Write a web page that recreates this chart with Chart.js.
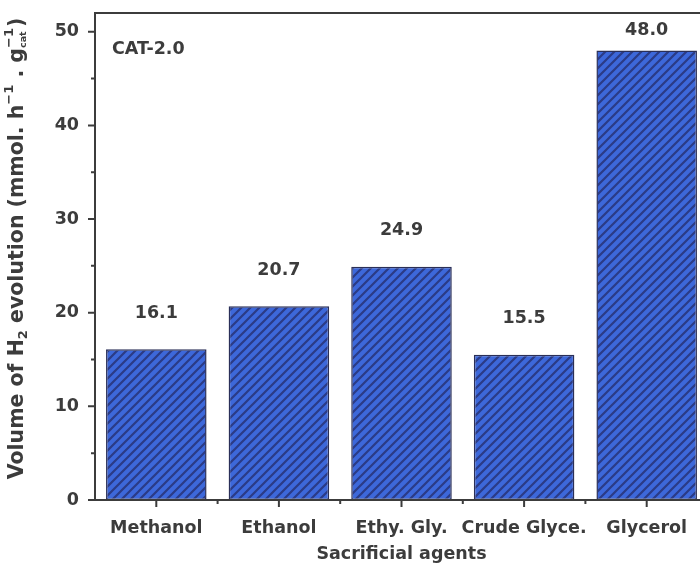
<!DOCTYPE html>
<html>
<head>
<meta charset="utf-8">
<script src="https://cdn.jsdelivr.net/npm/chart.js@4/dist/chart.umd.min.js"></script>
<style>
  html, body { margin: 0; padding: 0; background: #fff; overflow: hidden; }
  #wrap { width: 700px; height: 569px; overflow: hidden; position: relative; }
  #holder { width: 712px; height: 569px; position: absolute; left: 0; top: 0; }
</style>
</head>
<body>
<div id="wrap"><div id="holder"><canvas id="c"></canvas></div></div>
<script>
// Hydrogen evolution by sacrificial agent (CAT-2.0)
const categories = ['Methanol', 'Ethanol', 'Ethy. Gly.', 'Crude Glyce.', 'Glycerol'];
const h2Volume = [16.1, 20.7, 24.9, 15.5, 48.0];
const yTicks = [0, 10, 20, 30, 40, 50];
const sampleName = 'CAT-2.0';
const xTitle = 'Sacrificial agents';

const INK = '#3c3c3c';
const FONT = '"DejaVu Sans", Arial, sans-serif';
const LABEL_SIZE = 17.5;

// Diagonal hatch fill for the bars
function makeHatch() {
  const s = 9;
  const p = document.createElement('canvas');
  p.width = s; p.height = s;
  const g = p.getContext('2d');
  g.fillStyle = '#3d68da';
  g.fillRect(0, 0, s, s);
  g.strokeStyle = '#2b3b86';
  g.lineWidth = 2.2;
  g.beginPath();
  g.moveTo(-2, s + 2); g.lineTo(s + 2, -2);
  g.moveTo(-2, 2); g.lineTo(2, -2);
  g.moveTo(s - 2, s + 2); g.lineTo(s + 2, s - 2);
  g.stroke();
  return g.createPattern(p, 'repeat');
}

const framePlugin = {
  id: 'frame',
  afterDraw(chart) {
    const { ctx, chartArea: a, scales } = chart;
    const y = scales.y, x = scales.x;
    ctx.save();
    ctx.strokeStyle = INK;
    ctx.lineWidth = 2;
    ctx.beginPath();
    ctx.rect(a.left, a.top, a.right - a.left, a.bottom - a.top);
    ctx.stroke();
    // y ticks: major with labels, minor halfway
    ctx.beginPath();
    for (let v = 0; v <= 50; v += 5) {
      const py = y.getPixelForValue(v);
      const len = v % 10 === 0 ? 7 : 4;
      ctx.moveTo(a.left, py); ctx.lineTo(a.left - len, py);
    }
    // x ticks: major at categories, minor between
    for (let i = 0; i < categories.length; i++) {
      const px = x.getPixelForValue(i);
      ctx.moveTo(px, a.bottom); ctx.lineTo(px, a.bottom + 7);
      if (i < categories.length - 1) {
        const mx = (px + x.getPixelForValue(i + 1)) / 2;
        ctx.moveTo(mx, a.bottom); ctx.lineTo(mx, a.bottom + 4);
      }
    }
    ctx.stroke();

    // sample tag
    ctx.fillStyle = INK;
    ctx.font = 'bold ' + LABEL_SIZE + 'px ' + FONT;
    ctx.textAlign = 'left';
    ctx.textBaseline = 'middle';
    ctx.fillText(sampleName, a.left + 17, 49);

    // value labels above bars
    const meta = chart.getDatasetMeta(0);
    ctx.textAlign = 'center';
    meta.data.forEach((bar, i) => {
      const ly = Math.max(bar.y - 36, a.top + 17);
      ctx.fillText(h2Volume[i].toFixed(1), bar.x, ly);
    });

    // rotated y-axis title with sub/superscripts
    const big = 20.5, small = 13, tiny = 9.5;
    const parts = [
      { t: 'Volume of H', s: big, dy: 0 },
      { t: '2', s: small, dy: 6 },
      { t: ' evolution (mmol. h', s: big, dy: 0 },
      { t: '\u22121', s: small, dy: -8 },
      { t: ' . g', s: big, dy: 0 },
      { t: 'cat', s: tiny, dy: 6, stack: true },
      { t: ')', s: big, dy: 0 }
    ];
    const supCat = { t: '\u22121', s: small, dy: -8 };
    function w(p) { ctx.font = 'bold ' + p.s + 'px ' + FONT; return ctx.measureText(p.t).width; }
    let total = 0;
    parts.forEach(p => {
      total += p.stack ? Math.max(w(p), w(supCat)) + 1 : w(p);
    });
    ctx.translate(18, (a.top + a.bottom) / 2 - 8);
    ctx.rotate(-Math.PI / 2);
    ctx.textAlign = 'left';
    ctx.textBaseline = 'middle';
    let cx = -total / 2;
    parts.forEach(p => {
      ctx.font = 'bold ' + p.s + 'px ' + FONT;
      ctx.fillText(p.t, cx, p.dy);
      if (p.stack) {
        ctx.font = 'bold ' + supCat.s + 'px ' + FONT;
        ctx.fillText(supCat.t, cx, supCat.dy);
        cx += Math.max(w(p), w(supCat)) + 1;
      } else {
        cx += w(p);
      }
    });
    ctx.restore();
  }
};

new Chart(document.getElementById('c'), {
  type: 'bar',
  data: {
    labels: categories,
    datasets: [{
      data: h2Volume,
      backgroundColor: makeHatch(),
      borderColor: '#2a2f58',
      borderWidth: 1.5,
      borderSkipped: false,
      barPercentage: 0.82,
      categoryPercentage: 1.0
    }]
  },
  plugins: [framePlugin],
  options: {
    responsive: true,
    maintainAspectRatio: false,
    animation: false,
    layout: { padding: { top: 13, right: 4, left: 0, bottom: 0 } },
    plugins: { legend: { display: false }, tooltip: { enabled: false } },
    scales: {
      x: {
        grid: { display: false, drawTicks: false },
        border: { display: false },
        ticks: { color: INK, font: { family: FONT, size: LABEL_SIZE, weight: 'bold' }, padding: 18, maxRotation: 0, autoSkip: false },
        title: { display: true, text: xTitle, color: INK, font: { family: FONT, size: LABEL_SIZE, weight: 'bold' }, padding: { top: 2, bottom: 4 } },
        afterFit(s) { s.height = 69; s.paddingLeft = 0; s.paddingRight = 0; }
      },
      y: {
        min: 0, max: 52,
        grid: { display: false, drawTicks: false },
        border: { display: false },
        afterBuildTicks(s) { s.ticks = yTicks.map(v => ({ value: v })); },
        ticks: { color: INK, font: { family: FONT, size: LABEL_SIZE, weight: 'bold' }, padding: 16 },
        afterFit(s) { s.width = 95; s.paddingTop = 0; s.paddingBottom = 0; }
      }
    }
  }
});
</script>
</body>
</html>
